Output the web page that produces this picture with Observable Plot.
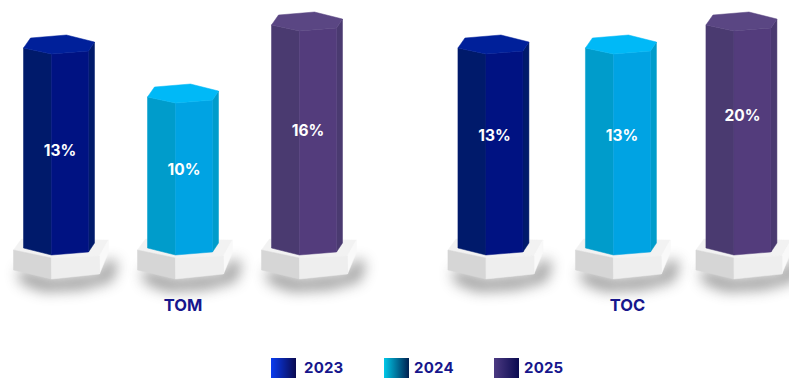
<!DOCTYPE html>
<html>
<head>
<meta charset="utf-8">
<script src="https://cdn.jsdelivr.net/npm/d3@7"></script>
<script src="https://cdn.jsdelivr.net/npm/@observablehq/plot@0.6"></script>
<style>
  html, body { margin: 0; padding: 0; background: #fff; overflow: hidden; }
  #chart { position: relative; width: 789px; height: 378px; overflow: hidden; }
  #chart svg { display: block; background: transparent; }
  .legend { position: absolute; left: 0; top: 345px; width: 789px; height: 33px; overflow: hidden;
            font: 700 15px Inter, sans-serif; color: #16168c; }
  .legend i { position: absolute; top: 13px; width: 24.5px; height: 24px; }
  .legend span { position: absolute; top: 14px; line-height: 18px; letter-spacing: .2px; }
</style>
</head>
<body>
<div id="chart"></div>
<script>
// Values per test, one series per year
const groups = ["TOM", "TOC"];
const years = ["2023", "2024", "2025"];
const tomValues = [13, 10, 16];
const tocValues = [13, 13, 20];

// Facet fills for each year's column, and the legend ramps
const topFaces = ["#00209a", "#00b9f7", "#5a4683"];
const leftFaces = ["#001a6b", "#009ccb", "#4a3a70"];
const frontFaces = ["#001282", "#00a3e3", "#533c7c"];
const swatchRamps = [
  ["#0a3cf0", "#0a0a50"],
  ["#00c8e8", "#002050"],
  ["#4c3a82", "#0a0a50"]
];

const rows = groups.flatMap((group, g) =>
  years.map((year, y) => ({group, year, yearIndex: y, value: (g ? tocValues : tomValues)[y]}))
);

// Horizontal nudge of individual columns and vertical lift of their labels, in pixels
const columnNudge = [0, 0, 0, 0, 3.5, 0];
const labelLift = [-4, -9.5, -12.5, -19, -19, -27.5];

const svgNS = "http://www.w3.org/2000/svg";
function polygon(parent, ox, oy, points, fill, extra = {}) {
  const p = document.createElementNS(svgNS, "polygon");
  p.setAttribute("points", points.map(([a, b]) => `${ox + a},${oy + b}`).join(" "));
  p.setAttribute("fill", fill);
  p.setAttribute("stroke", fill);
  p.setAttribute("stroke-width", 0.5);
  for (const k in extra) p.setAttribute(k, extra[k]);
  parent.appendChild(p);
}

// Turns a rule into a drawn solid: the callback gets the column's front edge in pixels
function solid(draw) {
  return (index, scales, values) => {
    const g = document.createElementNS(svgNS, "g");
    for (const i of index) {
      const x = values.x[i] + columnNudge[i] - 7.5;
      draw(g, x, values.y1[i], values.y2[i], rows[i]);
    }
    return g;
  };
}

const shadow = solid((g, x, y0) => {
  polygon(g, x, y0, [[-34, 14], [0, 24], [48, 19], [56, 4], [66, 8], [60, 26], [30, 34], [-8, 36], [-30, 28]],
    "#555", {style: "filter: blur(7px)", opacity: 0.6});
});

const plinth = solid((g, x, y0) => {
  polygon(g, x, y0, [[-38, -5], [-30, -16], [57, -15], [48, 1], [0, 3]], "#f2f2f2");
  polygon(g, x, y0, [[48, 1], [57, -15], [57, -3], [48, 19]], "#f9f9f9");
  polygon(g, x, y0, [[-38, -5], [0, 3], [0, 24], [-38, 15]], "#d6d6d6");
  polygon(g, x, y0, [[0, 3], [48, 1], [48, 19], [0, 24]], "#eeeeee");
});

const column = solid((g, x, y0, y1, d) => {
  const h = y1 - y0;
  const k = d.yearIndex;
  polygon(g, x, y0, [[-28, -7], [0, 0], [0, h], [-28, h - 6]], leftFaces[k]);
  polygon(g, x, y0, [[37, -3], [43, -12], [43, h - 12], [37, h - 3]], leftFaces[k]);
  polygon(g, x, y0, [[0, 0], [37, -3], [37, h - 3], [0, h]], frontFaces[k]);
  polygon(g, x, y1, [[-28, -6], [-21, -16], [15, -19], [43, -12], [37, -3], [0, 0]], topFaces[k]);
});

const channels = {x: "year", y1: 0, y2: "value", fx: "group"};
const labelFont = {fontFamily: "Inter, sans-serif", fontWeight: 700};

// Test names sit under each trio of columns
const groupLabel = (name, dx) => Plot.text([name], {
  fx: (d) => d, text: (d) => d, frameAnchor: "bottom", dy: 14, dx,
  fill: "#16168c", fontSize: 16.5, ...labelFont
});

const plot = Plot.plot({
  width: 789,
  height: 345,
  marginLeft: 58.5,
  marginRight: 48,
  marginTop: 0,
  marginBottom: 49,
  fx: {domain: groups, paddingInner: 0.429, paddingOuter: 0, round: false, axis: null},
  x: {type: "point", domain: years, padding: 0, axis: null},
  y: {type: "linear", domain: [0, 10, 13, 16, 20], range: [255, 103, 54, 31, 31], axis: null},
  marks: [
    Plot.ruleX(rows, {...channels, render: shadow}),
    Plot.ruleX(rows, {...channels, render: plinth}),
    Plot.ruleX(rows, {...channels, render: column}),
    Plot.text(rows, {
      x: "year", y: "value", fx: "group",
      text: (d) => `${d.value}%`,
      fill: "#fff", fontSize: 15.5, ...labelFont,
      render(index, scales, values, dimensions, context, next) {
        const X = Float64Array.from(values.x), Y = Float64Array.from(values.y);
        for (const i of index) {
          X[i] = values.x[i] + columnNudge[i] + 0.5;
          Y[i] = (scales.y(0) + values.y[i]) / 2 + labelLift[i];
        }
        return next(index, scales, {...values, x: X, y: Y}, dimensions, context);
      }
    }),
    groupLabel("TOM", 0),
    groupLabel("TOC", 10)
  ]
});

const chart = document.getElementById("chart");
chart.appendChild(plot);

// Year key under the chart
const legend = document.createElement("div");
legend.className = "legend";
const swatchLeft = [271, 384, 494];
const textLeft = [304, 414, 524];
years.forEach((year, i) => {
  const swatch = document.createElement("i");
  swatch.style.left = swatchLeft[i] + "px";
  swatch.style.background = `linear-gradient(to right, ${swatchRamps[i].join(",")})`;
  const label = document.createElement("span");
  label.style.left = textLeft[i] + "px";
  label.textContent = year;
  legend.append(swatch, label);
});
chart.appendChild(legend);
</script>
</body>
</html>
